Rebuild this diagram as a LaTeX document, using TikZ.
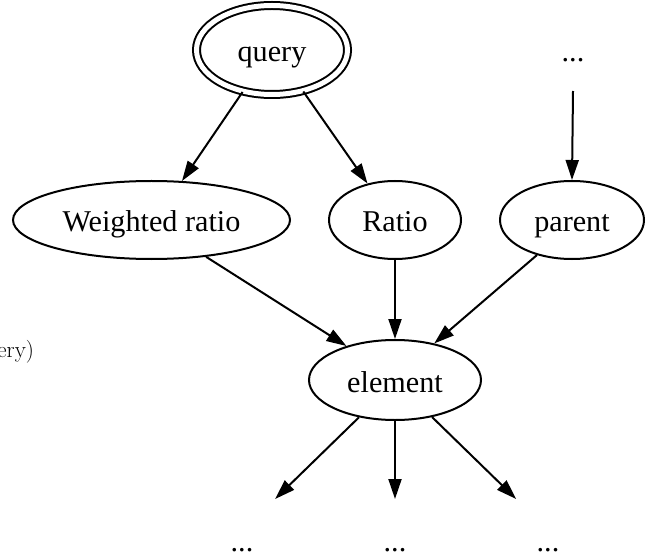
\documentclass[tikz,border=0pt]{standalone}
\usepackage{fontspec}
\newfontfamily\gvfont{Liberation Serif}
\usetikzlibrary{arrows.meta,shapes.geometric}

\begin{document}
\begin{tikzpicture}[x=1bp, y=-1bp, line width=2bp,
  font=\gvfont\fontsize{30.3}{36}\selectfont,
  ell/.style={draw, ellipse, inner sep=0pt, minimum height=78bp, text height=27bp, text depth=3bp},
  dots/.style={inner sep=0pt, minimum width=116bp, minimum height=100bp},
  edge/.style={-{Triangle[length=20bp, width=13bp]}}]
\useasboundingbox (0,0) rectangle (652,559);
% query node on top, three scores in the middle row, element below
\node[ell, double, double distance=5bp, minimum width=151bp, minimum height=89bp] (query) at (272,50) {query};
\node[inner sep=0pt, minimum height=60bp] (topdots) at (573,60) {...};
\node[ell, minimum width=277bp] (wratio) at (151.5,220) {Weighted ratio};
\node[ell, minimum width=132bp] (ratio) at (395,220) {Ratio};
\node[ell, minimum width=144bp] (parent) at (572,220) {parent};
\node[ell, minimum width=172bp, minimum height=80bp] (element) at (395,380) {element};
\node[dots] (dotsA) at (242,550) {...};
\node[dots] (dotsB) at (395,550) {...};
\node[dots] (dotsC) at (548,550) {...};
% cut-off label at the left border
\node[anchor=base east, inner sep=0pt, font=\rmfamily\fontsize{23}{27}\selectfont] (querylabel) at (35,357) {ery)};
% edges
\draw[edge] (query.235) -- (wratio.52);
\draw[edge] (query.307) -- (ratio.127);
\draw[edge] (topdots.south) -- (parent.north);
\draw[edge] (wratio.326) -- (element.145);
\draw[edge] (ratio.south) -- (element.north);
\draw[edge] (parent.225) -- (element.43);
\draw[edge] (element.226) -- (dotsA.57);
\draw[edge] (element.south) -- (dotsB.north);
\draw[edge] (element.315) -- (dotsC.122);
\end{tikzpicture}
\end{document}
